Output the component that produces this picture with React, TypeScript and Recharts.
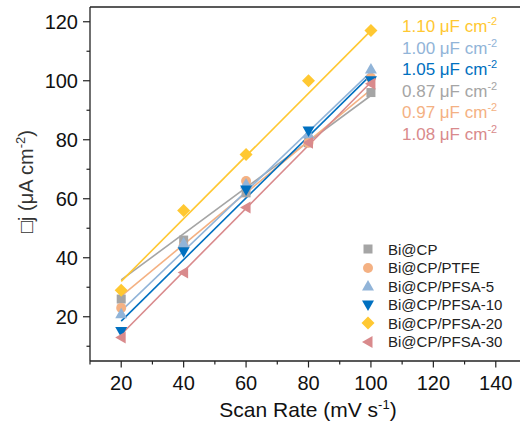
import React from "react";
import { ComposedChart, Scatter, Line, XAxis, YAxis, ReferenceLine } from "recharts";

const scanRates = [20, 40, 60, 80, 100];

const seriesNames = [
  "Bi@CP",
  "Bi@CP/PTFE",
  "Bi@CP/PFSA-5",
  "Bi@CP/PFSA-10",
  "Bi@CP/PFSA-20",
  "Bi@CP/PFSA-30"
];

const biCp = [26, 46, 62, 79, 96];
const biCpPtfe = [23, 44, 66, 79, 101];
const biCpPfsa5 = [21, 45, 65, 82, 104];
const biCpPfsa10 = [15, 42, 63, 83, 100];
const biCpPfsa20 = [29, 56, 75, 100, 117];
const biCpPfsa30 = [13, 35, 57, 79, 99];

// fitted lines as drawn, value at 20 and at 100 mV/s
const fitStart = [32.5, 27, 22, 18.5, 32, 14];
const fitEnd = [95, 97, 103, 102, 117, 99.5];

// capacitance labels, top to bottom, with the series they belong to
const capValues = ["1.10", "1.00", "1.05", "0.87", "0.97", "1.08"];
const capSeries = [4, 2, 3, 0, 1, 5];

const xTicks = [10, 20, 30, 40, 50, 60, 70, 80, 90, 100, 110, 120, 130, 140, 150];
const yTicks = [10, 20, 30, 40, 50, 60, 70, 80, 90, 100, 110, 120];

const colors = ["#A5A5A5", "#F4B183", "#91B4D8", "#0070C0", "#FFC832", "#D98A8C"];
const markers = ["square", "circle", "triangleUp", "triangleDown", "diamond", "triangleLeft"];

const allValues = [biCp, biCpPtfe, biCpPfsa5, biCpPfsa10, biCpPfsa20, biCpPfsa30];

const FONT = "'Liberation Sans', Arial, sans-serif";

function Marker({ kind, cx, cy, color }: { kind: string; cx: number; cy: number; color: string }) {
  switch (kind) {
    case "square":
      return <rect x={cx - 4.5} y={cy - 4.5} width={9} height={9} fill={color} />;
    case "circle":
      return <circle cx={cx} cy={cy} r={5} fill={color} />;
    case "triangleUp":
      return <polygon points={`${cx},${cy - 6} ${cx + 6},${cy + 4.5} ${cx - 6},${cy + 4.5}`} fill={color} />;
    case "triangleDown":
      return <polygon points={`${cx},${cy + 6} ${cx + 6},${cy - 4.5} ${cx - 6},${cy - 4.5}`} fill={color} />;
    case "diamond":
      return <polygon points={`${cx},${cy - 6.5} ${cx + 6.5},${cy} ${cx},${cy + 6.5} ${cx - 6.5},${cy}`} fill={color} />;
    default:
      return <polygon points={`${cx - 6},${cy} ${cx + 4.5},${cy - 6} ${cx + 4.5},${cy + 6}`} fill={color} />;
  }
}

const XTick = ({ x, y, payload }: any) => {
  const major = payload.value % 20 === 0;
  return (
    <g>
      <line x1={x} x2={x} y1={y} y2={y + (major ? 6.5 : 3.5)} stroke="#222" strokeWidth={1.2} />
      {major && payload.value >= 20 && payload.value <= 140 && (
        <text x={x} y={y + 21.5} dy="0.355em" textAnchor="middle" fontSize={20} fontFamily={FONT} fill="#111">
          {payload.value}
        </text>
      )}
    </g>
  );
};

const YTick = ({ x, y, payload }: any) => {
  const major = payload.value % 20 === 0;
  return (
    <g>
      <line x1={x} x2={x - (major ? 7 : 3.5)} y1={y} y2={y} stroke="#222" strokeWidth={1.2} />
      {major && (
        <text x={x - 12} y={y} dy="0.355em" textAnchor="end" fontSize={20} fontFamily={FONT} fill="#111">
          {payload.value}
        </text>
      )}
    </g>
  );
};

export default function App() {
  const scatterData = allValues.map((vals) => vals.map((v, i) => ({ x: scanRates[i], y: v })));
  const fitData = fitStart.map((s, i) => [
    { x: scanRates[0], y: s },
    { x: scanRates[scanRates.length - 1], y: fitEnd[i] }
  ]);

  return (
    <div style={{ position: "absolute", left: 0, top: 0, width: 520, height: 432, overflow: "hidden", background: "#fff" }}>
      <ComposedChart width={540} height={432} margin={{ top: 7, right: 13, left: 0, bottom: 0 }}>
        <XAxis
          type="number"
          dataKey="x"
          domain={[10, 150]}
          ticks={xTicks}
          interval={0}
          height={71}
          tickSize={0}
          tickMargin={0}
          tickLine={false}
          tick={<XTick />}
          axisLine={{ stroke: "#222", strokeWidth: 1.3 }}
        />
        <YAxis
          type="number"
          dataKey="y"
          domain={[5, 125]}
          ticks={yTicks}
          interval={0}
          width={90}
          tickSize={0}
          tickMargin={0}
          tickLine={false}
          tick={<YTick />}
          axisLine={{ stroke: "#222", strokeWidth: 1.3 }}
        />
        <ReferenceLine y={125} stroke="#222" strokeWidth={1.3} ifOverflow="visible" />
        <ReferenceLine x={150} stroke="#222" strokeWidth={1.3} ifOverflow="visible" />
        {fitData.map((d, i) => (
          <Line
            key={"fit" + i}
            data={d}
            dataKey="y"
            stroke={colors[i]}
            strokeWidth={1.6}
            dot={false}
            activeDot={false}
            isAnimationActive={false}
          />
        ))}
        {scatterData.map((d, i) => (
          <Scatter
            key={seriesNames[i]}
            name={seriesNames[i]}
            data={d}
            isAnimationActive={false}
            shape={(p: any) => <Marker kind={markers[i]} cx={p.cx} cy={p.cy} color={colors[i]} />}
          />
        ))}
      </ComposedChart>

      <div
        style={{
          position: "absolute",
          left: 402,
          top: 17,
          fontFamily: FONT,
          fontSize: 17,
          lineHeight: "20.6px",
          whiteSpace: "nowrap"
        }}
      >
        {capValues.map((v, i) => (
          <div key={v + i} style={{ color: colors[capSeries[i]] }}>
            {v} μF cm<span style={{ fontSize: 11, position: "relative", top: -7 }}>-2</span>
          </div>
        ))}
      </div>

      <div style={{ position: "absolute", left: 361, top: 240, fontFamily: FONT, fontSize: 15, color: "#222" }}>
        {seriesNames.map((n, i) => (
          <div key={n} style={{ display: "flex", alignItems: "center", height: 18.5 }}>
            <svg width={14} height={14} style={{ marginRight: 13 }}>
              <Marker kind={markers[i]} cx={7} cy={7} color={colors[i]} />
            </svg>
            <span>{n}</span>
          </div>
        ))}
      </div>

      <div
        style={{
          position: "absolute",
          left: 208,
          top: 397,
          width: 200,
          textAlign: "center",
          fontFamily: FONT,
          fontSize: 21,
          lineHeight: "26px",
          color: "#111",
          whiteSpace: "nowrap"
        }}
      >
        Scan Rate (mV s<span style={{ fontSize: 13, position: "relative", top: -8 }}>-1</span>)
      </div>

      <div
        style={{
          position: "absolute",
          left: 27 - 100,
          top: 180 - 13,
          width: 200,
          textAlign: "center",
          fontFamily: FONT,
          fontSize: 20,
          lineHeight: "26px",
          color: "#333",
          whiteSpace: "nowrap",
          transform: "rotate(-90deg)"
        }}
      >
        □j (μA cm<span style={{ fontSize: 13, position: "relative", top: -8 }}>-2</span>)
      </div>
    </div>
  );
}
